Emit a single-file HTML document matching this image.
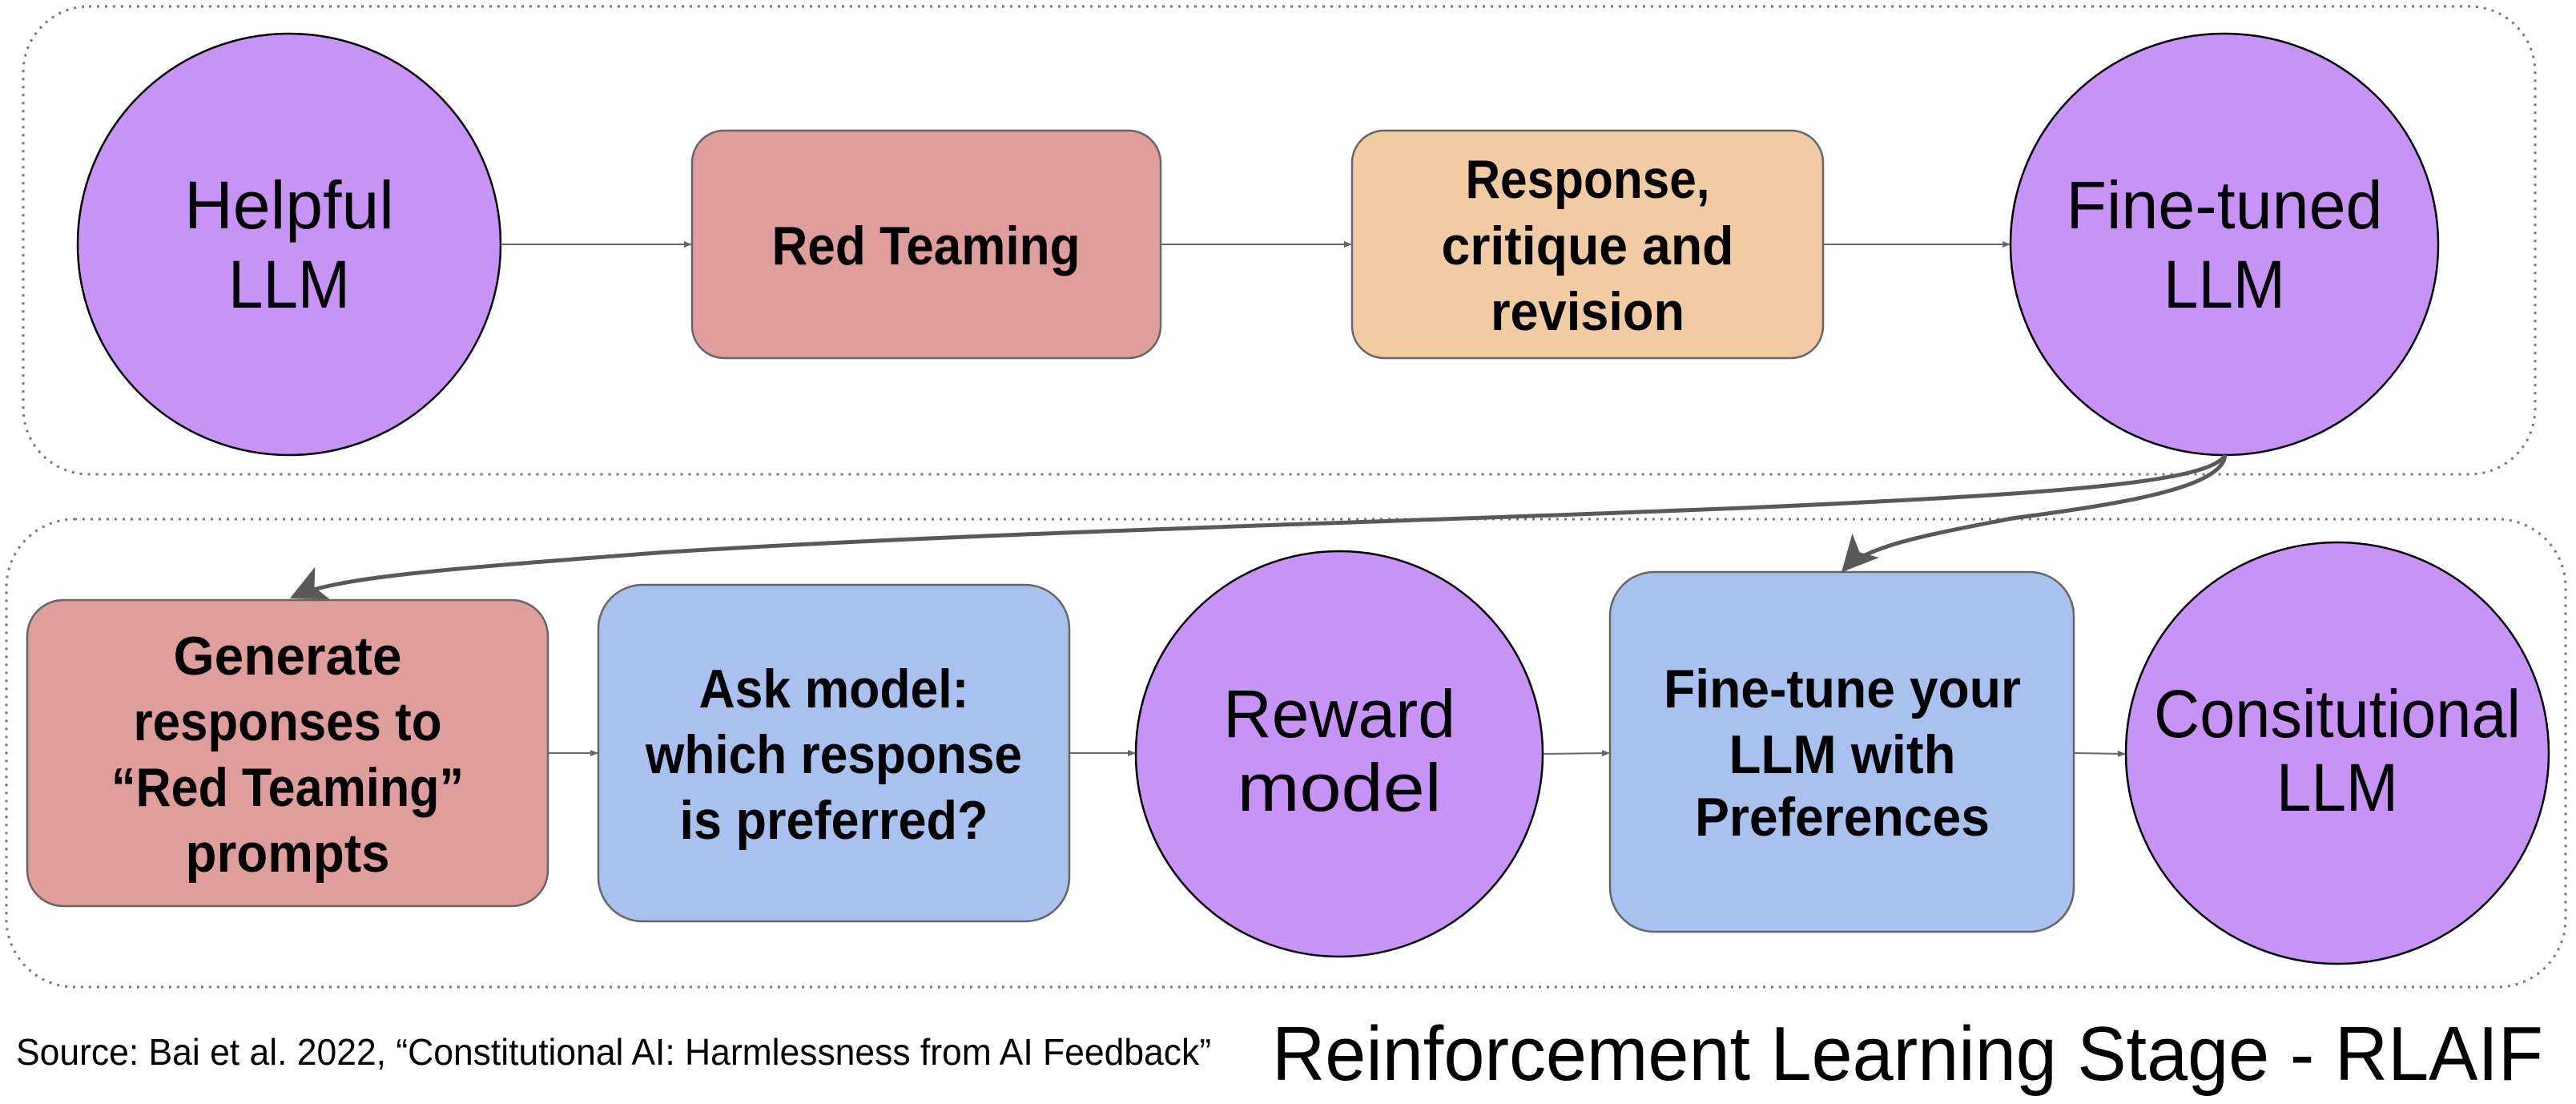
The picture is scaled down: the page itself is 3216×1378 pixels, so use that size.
<!DOCTYPE html>
<html><head><meta charset="utf-8"><style>
html,body{margin:0;padding:0;background:#fff;}
svg{display:block;}
text{font-family:"Liberation Sans",sans-serif;fill:#000;}
.b{font-weight:bold;font-size:68px;}
.r{font-size:84px;}
</style></head><body>
<svg width="3216" height="1378" viewBox="0 0 3216 1378" xmlns="http://www.w3.org/2000/svg">
<defs>
<marker id="sa" viewBox="0 0 10 10" refX="9" refY="5" markerWidth="10" markerHeight="10" markerUnits="userSpaceOnUse" orient="auto"><path d="M0,1 L10,5 L0,9 z" fill="#666"/></marker>
<marker id="ba" viewBox="0 0 10 10" refX="9" refY="5" markerWidth="9" markerHeight="9" orient="auto"><path d="M0,0 L10,5 L0,10 L2.5,5 z" fill="#595959"/></marker>
</defs>
<rect x="29" y="8" width="3136" height="584" rx="82" ry="82" fill="none" stroke="#777" stroke-width="3" stroke-dasharray="3 7"/>
<rect x="8" y="648" width="3195" height="584" rx="85" ry="85" fill="none" stroke="#777" stroke-width="3" stroke-dasharray="3 7"/>

<ellipse cx="361" cy="305" rx="264" ry="263" fill="#c893f7" stroke="#000" stroke-width="2.5"/>
<text class="r" x="361" y="285" text-anchor="middle" textLength="262" lengthAdjust="spacingAndGlyphs">Helpful</text>
<text class="r" x="361" y="384" text-anchor="middle" textLength="152" lengthAdjust="spacingAndGlyphs">LLM</text>

<rect x="864" y="163" width="585" height="284" rx="40" ry="40" fill="#df9d9c" stroke="#666" stroke-width="2.5"/>
<text class="b" x="1156" y="330" text-anchor="middle" textLength="385" lengthAdjust="spacingAndGlyphs">Red Teaming</text>

<rect x="1688" y="163" width="588" height="284" rx="40" ry="40" fill="#f1cba1" stroke="#666" stroke-width="2.5"/>
<text class="b" x="1982" y="247" text-anchor="middle" textLength="305" lengthAdjust="spacingAndGlyphs">Response,</text>
<text class="b" x="1982" y="330" text-anchor="middle" textLength="365" lengthAdjust="spacingAndGlyphs">critique and</text>
<text class="b" x="1982" y="412" text-anchor="middle" textLength="242" lengthAdjust="spacingAndGlyphs">revision</text>

<ellipse cx="2777" cy="305" rx="267" ry="263" fill="#c893f7" stroke="#000" stroke-width="2.5"/>
<text class="r" x="2777" y="285" text-anchor="middle" textLength="395" lengthAdjust="spacingAndGlyphs">Fine-tuned</text>
<text class="r" x="2777" y="384" text-anchor="middle" textLength="152" lengthAdjust="spacingAndGlyphs">LLM</text>

<line x1="625" y1="305" x2="863" y2="305" stroke="#666" stroke-width="2" marker-end="url(#sa)"/>
<line x1="1450" y1="305" x2="1687" y2="305" stroke="#666" stroke-width="2" marker-end="url(#sa)"/>
<line x1="2277" y1="305" x2="2509" y2="305" stroke="#666" stroke-width="2" marker-end="url(#sa)"/>

<path d="M2778,568 C2760,600 2600,615 2200,633 C1800,650 1200,665 820,690 C560,710 420,720 366,745" fill="none" stroke="#595959" stroke-width="5" marker-end="url(#ba)"/>
<path d="M2778,568 C2775,610 2640,630 2512,647 C2420,665 2330,680 2302,711" fill="none" stroke="#595959" stroke-width="5" marker-end="url(#ba)"/>

<rect x="34" y="749" width="650" height="382" rx="45" ry="45" fill="#df9d9c" stroke="#666" stroke-width="2.5"/>
<text class="b" x="359" y="842" text-anchor="middle" textLength="285" lengthAdjust="spacingAndGlyphs">Generate</text>
<text class="b" x="359" y="924" text-anchor="middle" textLength="385" lengthAdjust="spacingAndGlyphs">responses to</text>
<text class="b" x="359" y="1006" text-anchor="middle" textLength="440" lengthAdjust="spacingAndGlyphs">“Red Teaming”</text>
<text class="b" x="359" y="1088" text-anchor="middle" textLength="255" lengthAdjust="spacingAndGlyphs">prompts</text>

<rect x="747" y="730" width="588" height="420" rx="55" ry="55" fill="#a9c1ee" stroke="#666" stroke-width="2.5"/>
<text class="b" x="1041" y="883" text-anchor="middle" textLength="337" lengthAdjust="spacingAndGlyphs">Ask model:</text>
<text class="b" x="1041" y="965" text-anchor="middle" textLength="470" lengthAdjust="spacingAndGlyphs">which response</text>
<text class="b" x="1041" y="1047" text-anchor="middle" textLength="385" lengthAdjust="spacingAndGlyphs">is preferred?</text>

<ellipse cx="1672" cy="941" rx="254" ry="253" fill="#c893f7" stroke="#000" stroke-width="2.5"/>
<text class="r" x="1672" y="920" text-anchor="middle" textLength="290" lengthAdjust="spacingAndGlyphs">Reward</text>
<text class="r" x="1672" y="1012" text-anchor="middle" textLength="255" lengthAdjust="spacingAndGlyphs">model</text>

<rect x="2010" y="714" width="579" height="449" rx="55" ry="55" fill="#a9c1ee" stroke="#666" stroke-width="2.5"/>
<text class="b" x="2300" y="883" text-anchor="middle" textLength="446" lengthAdjust="spacingAndGlyphs">Fine-tune your</text>
<text class="b" x="2300" y="965" text-anchor="middle" textLength="283" lengthAdjust="spacingAndGlyphs">LLM with</text>
<text class="b" x="2300" y="1043" text-anchor="middle" textLength="368" lengthAdjust="spacingAndGlyphs">Preferences</text>

<ellipse cx="2918" cy="940" rx="264" ry="263" fill="#c893f7" stroke="#000" stroke-width="2.5"/>
<text class="r" x="2918" y="920" text-anchor="middle" textLength="458" lengthAdjust="spacingAndGlyphs">Consitutional</text>
<text class="r" x="2918" y="1012" text-anchor="middle" textLength="152" lengthAdjust="spacingAndGlyphs">LLM</text>

<line x1="685" y1="940" x2="746" y2="940" stroke="#666" stroke-width="2" marker-end="url(#sa)"/>
<line x1="1336" y1="940" x2="1417" y2="940" stroke="#666" stroke-width="2" marker-end="url(#sa)"/>
<line x1="1927" y1="941" x2="2009" y2="940" stroke="#666" stroke-width="2" marker-end="url(#sa)"/>
<line x1="2590" y1="940" x2="2653" y2="941" stroke="#666" stroke-width="2" marker-end="url(#sa)"/>

<text x="20" y="1329" font-size="46" textLength="1492" lengthAdjust="spacingAndGlyphs">Source:  Bai et al. 2022, “Constitutional AI: Harmlessness from AI Feedback”</text>
<text x="1588" y="1348" font-size="96" textLength="1587" lengthAdjust="spacingAndGlyphs">Reinforcement Learning Stage - RLAIF</text>
</svg>
</body></html>
